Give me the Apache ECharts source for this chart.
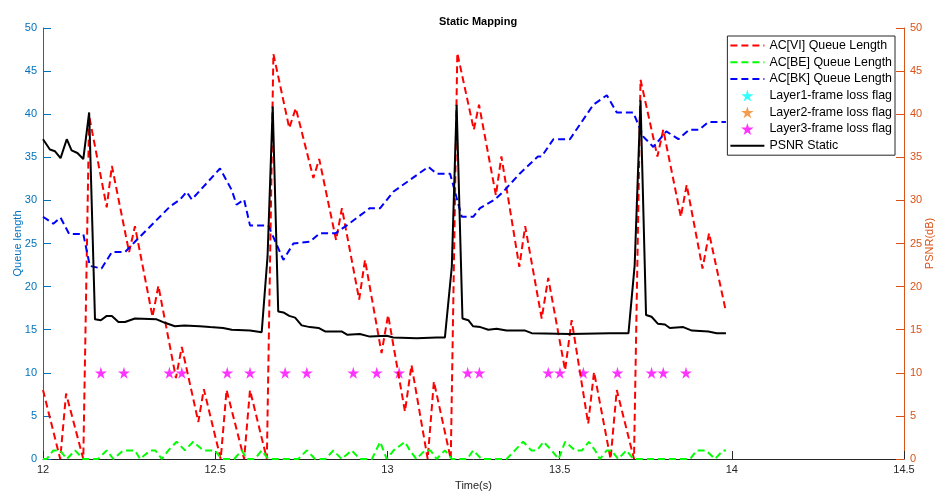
<!DOCTYPE html>
<html>
<head>
<meta charset="utf-8">
<title>Static Mapping</title>
<script src="https://cdn.jsdelivr.net/npm/echarts@6/dist/echarts.min.js"></script>
<style>
  html, body { margin: 0; padding: 0; background: #fff; }
  #chart { width: 941px; height: 492px; }
</style>
</head>
<body>
<div id="chart"></div>
<script>
// AC[VI] queue length (red dashed)
var viTime = [12.0, 12.05, 12.067, 12.117, 12.134, 12.185, 12.2, 12.25, 12.267, 12.318, 12.335, 12.386, 12.403,
  12.451, 12.467, 12.516, 12.533, 12.584, 12.601, 12.65, 12.669, 12.715, 12.734, 12.785, 12.802, 12.851, 12.868,
  12.918, 12.935, 12.983, 13.002, 13.051, 13.07, 13.117, 13.135, 13.184, 13.203, 13.251, 13.266, 13.315, 13.331,
  13.383, 13.4, 13.448, 13.467, 13.516, 13.535, 13.583, 13.6, 13.648, 13.666, 13.716, 13.735, 13.784, 13.801,
  13.852, 13.869, 13.915, 13.934, 13.983];
var viQueue = [8.0, 0, 7.6, 0, 39.8, 29.2, 34.0, 24.0, 27.0, 16.5, 20.1, 9.4, 13.0,
  4.3, 8.1, 0, 8.0, 0, 8.0, 0, 47.0, 38.4, 40.7, 32.6, 34.8, 25.4, 29.1,
  18.5, 23.1, 12.3, 16.7, 5.5, 10.9, 0, 9.0, 0, 47.1, 38.2, 41.1, 30.6, 35.1,
  22.3, 27.0, 16.3, 21.0, 10.3, 16.1, 4.1, 10.1, 0, 8.0, 0, 44.0, 35.1, 38.2,
  28.1, 31.8, 22.1, 26.2, 17.1];

// AC[BE] queue length (green dashed)
var beTime = [12.0, 12.011, 12.03, 12.05, 12.069, 12.093, 12.117, 12.16, 12.185, 12.204, 12.233, 12.267, 12.282,
  12.311, 12.326, 12.345, 12.364, 12.388, 12.412, 12.436, 12.465, 12.499, 12.519, 12.555, 12.577, 12.592, 12.615,
  12.635, 12.654, 12.741, 12.766, 12.79, 12.82, 12.843, 12.867, 12.896, 12.92, 12.955, 12.979, 12.998, 13.018,
  13.051, 13.065, 13.084, 13.109, 13.125, 13.143, 13.167, 13.187, 13.232, 13.249, 13.273, 13.346, 13.37, 13.394,
  13.418, 13.435, 13.453, 13.477, 13.497, 13.516, 13.545, 13.565, 13.585, 13.603, 13.617, 13.637, 13.65, 13.67,
  13.694, 13.714, 13.879, 13.898, 13.925, 13.951, 13.975, 13.983];
var beQueue = [0, 0, 1, 1, 0, 1, 0, 0, 1, 0, 1, 1, 0,
  1, 1, 0, 1, 2, 1, 2, 1, 1, 0, 0, 1, 0, 0,
  1, 0, 0, 1, 0, 0, 1, 0, 1, 0, 0, 2, 0, 1,
  2, 1, 0, 1, 1, 0, 1, 0, 0, 1, 0, 0, 1, 2,
  1, 1, 2, 1, 0, 2, 1, 1, 2, 1, 0, 1, 1, 0,
  1, 0, 0, 1, 1, 0, 1, 1];

// AC[BK] queue length (blue dashed)
var bkTime = [12.0, 12.03, 12.051, 12.076, 12.117, 12.136, 12.17, 12.2, 12.238, 12.267, 12.369, 12.398, 12.417,
  12.432, 12.514, 12.548, 12.562, 12.584, 12.601, 12.654, 12.698, 12.727, 12.775, 12.804, 12.85, 12.882, 12.949,
  12.979, 13.017, 13.119, 13.143, 13.182, 13.216, 13.249, 13.269, 13.312, 13.336, 13.384, 13.437, 13.448, 13.482,
  13.53, 13.598, 13.637, 13.666, 13.714, 13.743, 13.772, 13.81, 13.845, 13.876, 13.905, 13.932, 13.983];
var bkQueue = [28.1, 27.3, 28.0, 26.1, 26.1, 22.4, 22.1, 24.0, 24.0, 25.2, 29.3, 30.1, 31.0,
  30.1, 33.7, 31.2, 29.5, 30.1, 27.1, 27.1, 23.1, 25.0, 25.2, 26.2, 26.2, 27.1, 29.1,
  29.1, 31.0, 33.9, 33.1, 33.1, 28.1, 28.1, 29.1, 30.1, 31.0, 33.1, 35.1, 35.1, 37.1,
  37.1, 41.1, 42.2, 40.2, 40.2, 37.4, 36.2, 38.0, 37.1, 38.2, 38.2, 39.1, 39.1];

// frame loss flags (only layer 3 has hits)
var layer1LossTime = [];
var layer1Loss = [];
var layer2LossTime = [];
var layer2Loss = [];
var layer3LossTime = [12.168, 12.235, 12.367, 12.403, 12.535, 12.601, 12.703, 12.766, 12.901, 12.969,
  13.034, 13.233, 13.267, 13.467, 13.501, 13.569, 13.668, 13.767, 13.801, 13.867];
var layer3Loss = [10, 10, 10, 10, 10, 10, 10, 10, 10, 10, 10, 10, 10, 10, 10, 10, 10, 10, 10, 10];

// PSNR static (black, right axis)
var psnrTime = [12.0, 12.02, 12.035, 12.051, 12.069, 12.083, 12.1, 12.117, 12.134, 12.151, 12.168, 12.185, 12.2,
  12.219, 12.238, 12.267, 12.33, 12.354, 12.383, 12.41, 12.455, 12.485, 12.523, 12.548, 12.601, 12.635, 12.652,
  12.667, 12.683, 12.698, 12.715, 12.732, 12.751, 12.775, 12.8, 12.819, 12.867, 12.884, 12.92, 12.949, 12.998,
  13.017, 13.085, 13.143, 13.167, 13.187, 13.201, 13.218, 13.235, 13.249, 13.27, 13.293, 13.317, 13.346, 13.4,
  13.419, 13.53, 13.646, 13.7, 13.718, 13.735, 13.751, 13.767, 13.785, 13.806, 13.82, 13.859, 13.884, 13.932,
  13.956, 13.983];
var psnr = [37.1, 35.9, 35.7, 34.9, 37.1, 35.8, 35.5, 34.8, 40.2, 16.2, 16.1, 16.6, 16.6,
  15.9, 15.9, 16.3, 16.2, 15.8, 15.4, 15.5, 15.4, 15.3, 15.2, 15.0, 14.9, 14.7, 23.5,
  40.9, 17.1, 17.0, 16.6, 16.4, 15.5, 15.3, 15.2, 14.8, 14.8, 14.4, 14.5, 14.2, 14.3,
  14.1, 14.0, 14.1, 14.1, 22.3, 41.1, 16.3, 16.1, 15.4, 15.3, 15.0, 15.1, 14.9, 14.9,
  14.6, 14.5, 14.6, 14.6, 22.5, 41.6, 16.7, 16.5, 15.7, 15.6, 15.2, 15.3, 14.9, 14.8,
  14.6, 14.6];

var xTicks = { min: 12, max: 14.5, step: 0.5 };
var yTicks = { min: 0, max: 50, step: 5 };

function pairs(ts, vs) {
  return ts.map(function (t, i) { return [t, vs[i]]; });
}

var star = 'path://M50,0 L61,35 L98,35 L68,57 L79,91 L50,70 L21,91 L32,57 L2,35 L39,35 Z';
var font = '"Liberation Sans", Arial, Helvetica, sans-serif';
var axisGrey = '#262626';
var leftColor = '#0072BD';
var rightColor = '#D95319';

var chart = echarts.init(document.getElementById('chart'), null, { renderer: 'canvas' });

function dashed(name, color, ts, vs) {
  return {
    name: name,
    type: 'line',
    yAxisIndex: 0,
    data: pairs(ts, vs),
    symbol: 'none',
    clip: false,
    itemStyle: { color: color },
    lineStyle: { color: color, width: 2, type: [7, 4] }
  };
}

function flags(name, color, ts, vs) {
  return {
    name: name,
    type: 'scatter',
    yAxisIndex: 0,
    data: pairs(ts, vs),
    symbol: star,
    symbolSize: 12,
    clip: false,
    itemStyle: { color: color }
  };
}

// line entries in the legend: keep the stroke, hide the marker
function lineEntry(name) {
  return { name: name, itemStyle: { opacity: 0 } };
}

chart.setOption({
  animation: false,
  textStyle: { fontFamily: font },
  title: {
    text: 'Static Mapping',
    left: 473,
    top: 11,
    textAlign: 'center',
    textStyle: { fontSize: 11, fontWeight: 'bold', color: '#000', fontFamily: font }
  },
  grid: { left: 43, right: 37, top: 28, bottom: 33, outerBoundsMode: 'none' },
  legend: {
    orient: 'vertical',
    right: 46,
    top: 36,
    itemWidth: 34,
    itemHeight: 12,
    itemGap: 3.7,
    padding: [3, 3, 3, 2],
    backgroundColor: '#fff',
    borderColor: axisGrey,
    borderWidth: 1,
    borderRadius: 0,
    textStyle: { fontSize: 12.4, lineHeight: 13, color: '#000', fontFamily: font },
    data: [
      lineEntry('AC[VI] Queue Length'),
      lineEntry('AC[BE] Queue Length'),
      lineEntry('AC[BK] Queue Length'),
      'Layer1-frame loss flag',
      'Layer2-frame loss flag',
      'Layer3-frame loss flag',
      lineEntry('PSNR Static')
    ]
  },
  xAxis: {
    type: 'value',
    min: xTicks.min,
    max: xTicks.max,
    interval: xTicks.step,
    name: 'Time(s)',
    nameLocation: 'middle',
    nameGap: 21,
    nameMoveOverlap: false,
    nameTextStyle: { fontSize: 11, color: axisGrey },
    axisLine: { lineStyle: { color: axisGrey, width: 1 } },
    axisTick: { inside: true, length: 8, lineStyle: { color: axisGrey } },
    axisLabel: { fontSize: 11, color: axisGrey, margin: 5 },
    splitLine: { show: false }
  },
  yAxis: [
    {
      type: 'value',
      position: 'left',
      min: yTicks.min,
      max: yTicks.max,
      interval: yTicks.step,
      name: 'Queue length',
      nameLocation: 'middle',
      nameRotate: 90,
      nameGap: 20,
      nameMoveOverlap: false,
      nameTextStyle: { fontSize: 11, color: leftColor },
      axisLine: { show: true, lineStyle: { color: leftColor, width: 1 } },
      axisTick: { show: true, inside: true, length: 8, lineStyle: { color: leftColor } },
      axisLabel: { fontSize: 11, color: leftColor, margin: 6 },
      splitLine: { show: false }
    },
    {
      type: 'value',
      position: 'right',
      min: yTicks.min,
      max: yTicks.max,
      interval: yTicks.step,
      name: 'PSNR(dB)',
      nameLocation: 'middle',
      nameRotate: 90,
      nameGap: 20,
      nameMoveOverlap: false,
      nameTextStyle: { fontSize: 11, color: rightColor },
      axisLine: { show: true, lineStyle: { color: rightColor, width: 1 } },
      axisTick: { show: true, inside: true, length: 8, lineStyle: { color: rightColor } },
      axisLabel: { fontSize: 11, color: rightColor, margin: 6 },
      splitLine: { show: false }
    }
  ],
  series: [
    dashed('AC[VI] Queue Length', '#FF0000', viTime, viQueue),
    dashed('AC[BE] Queue Length', '#00FF00', beTime, beQueue),
    dashed('AC[BK] Queue Length', '#0000FF', bkTime, bkQueue),
    flags('Layer1-frame loss flag', '#00FFFF', layer1LossTime, layer1Loss),
    flags('Layer2-frame loss flag', '#F28522', layer2LossTime, layer2Loss),
    flags('Layer3-frame loss flag', '#FF00FF', layer3LossTime, layer3Loss),
    {
      name: 'PSNR Static',
      type: 'line',
      yAxisIndex: 1,
      data: pairs(psnrTime, psnr),
      symbol: 'none',
      clip: false,
      itemStyle: { color: '#000' },
      lineStyle: { color: '#000', width: 2 }
    }
  ]
});
</script>
</body>
</html>
